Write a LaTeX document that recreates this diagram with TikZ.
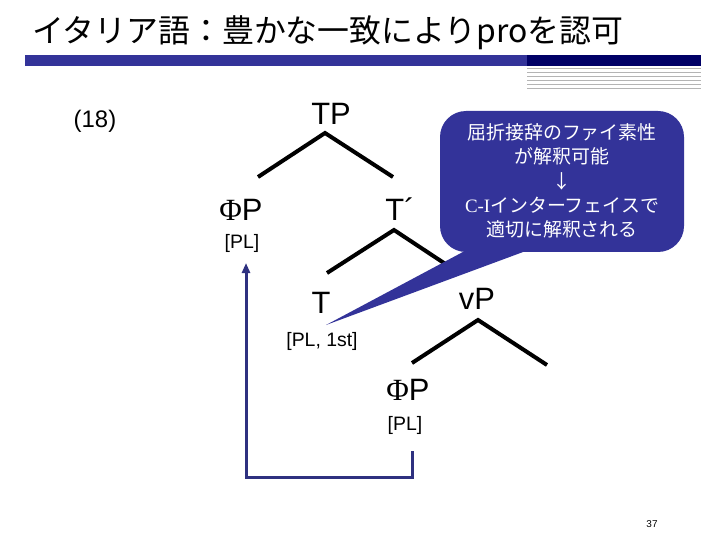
\documentclass[tikz,border=0pt]{standalone}
\usepackage{fontspec}
\setmainfont{Liberation Sans}
\newfontfamily\jpfont{Noto Sans CJK JP}
\newfontfamily\serifLS{Liberation Serif}
\usetikzlibrary{arrows.meta}
\definecolor{barblue}{HTML}{333399}
\definecolor{barnavy}{HTML}{000066}
\definecolor{callblue}{HTML}{333399}
\definecolor{arrnavy}{HTML}{2E3180}
\definecolor{linegray}{HTML}{B4B4B4}
\tikzset{
  treeline/.style={line width=4bp, black},
  biglab/.style={inner sep=0, font=\fontsize{31}{36}\selectfont},
  featlab/.style={inner sep=0, font=\fontsize{19.5}{22}\selectfont},
  pathline/.style={line width=3bp, arrnavy, -{Triangle[length=10bp,width=8bp]}}
}
\begin{document}
\begin{tikzpicture}[x=1bp,y=-1bp]
\useasboundingbox (0,0) rectangle (720,540);
% title
\node[anchor=west, inner sep=0, font=\jpfont\fontsize{32}{36}\selectfont] (title) at (32,33) {イタリア語：豊かな一致によりproを認可};
% bars
\fill[barblue] (25,55) rectangle (527,66);
\fill[barnavy] (527,55) rectangle (701,66);
\foreach \yy in {68.5,72.5,76.5,80.5,84.5,88.5}
  \draw[linegray, line width=1.2bp] (527,\yy) -- (701,\yy);
% example number
\node[inner sep=0, font=\fontsize{24}{28}\selectfont] (num) at (95,121) {(18)};
% tree nodes
\node[biglab] (TP) at (331,114) {TP};
\node[biglab] (PhiP) at (241,210) {{\serifLS\char"03A6}P};
\node[featlab] (pl1) at (242,243) {[PL]};
\node[biglab] (Tbar) at (400,209) {T´};
\node[biglab] (T) at (321,303) {T};
\node[featlab] (pl2) at (322,341) {[PL, 1st]};
\node[biglab] (vP) at (477,299) {vP};
\node[biglab] (PhiP2) at (408,390) {{\serifLS\char"03A6}P};
\node[featlab] (pl3) at (405,425) {[PL]};
% tree branches
\coordinate (tpA) at (325,133);
\coordinate (tpL) at (258,177);
\coordinate (tpR) at (393,177);
\coordinate (tbA) at (394,230);
\coordinate (tbL) at (327,273);
\coordinate (tbR) at (450,267);
\coordinate (vpA) at (478,320);
\coordinate (vpL) at (412,363);
\coordinate (vpR) at (547,365);
\draw[treeline] (tpL) -- (tpA) -- (tpR);
\draw[treeline] (tbL) -- (tbA) -- (tbR);
\draw[treeline] (vpL) -- (vpA) -- (vpR);
% movement arrow
\coordinate (arS) at (412,451);
\coordinate (arE) at (246,263);
\draw[pathline] (arS) -- (412,477) -| (arE);
% callout
\fill[callblue, rounded corners=26bp] (440,111) rectangle (684,252);
\fill[callblue] (476,245) -- (542,245) -- (326,325) -- cycle;
\node[align=center, text=white, inner sep=0, font=\jpfont\fontsize{19}{24.5}\selectfont] (note) at (562,181)
  {屈折接辞のファイ素性\\が解釈可能\\↓\\{\serifLS C-I}インターフェイスで\\適切に解釈される};
% page number
\node[inner sep=0, font=\fontsize{10}{12}\selectfont] (page) at (652,524) {37};
\end{tikzpicture}
\end{document}
